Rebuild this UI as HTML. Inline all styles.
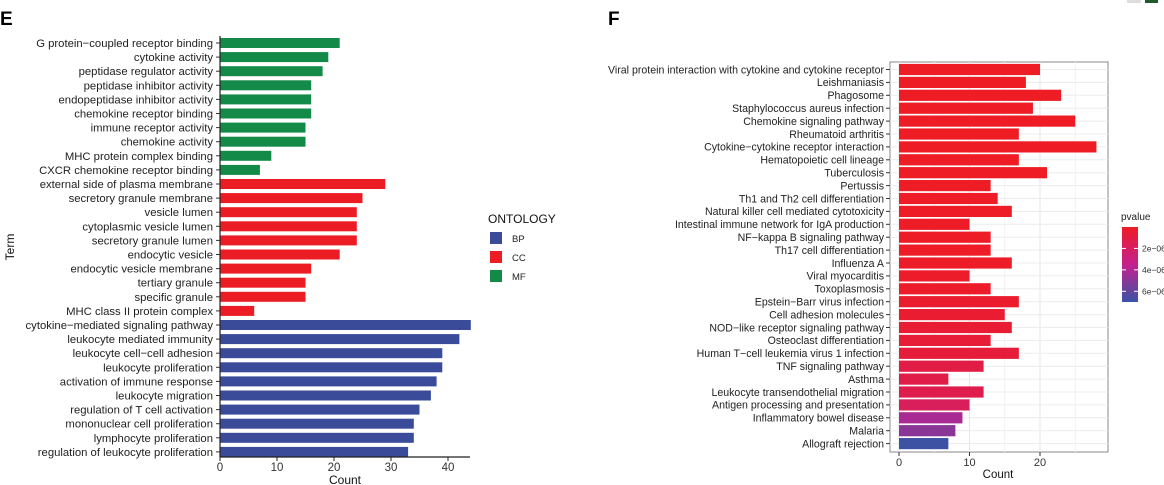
<!DOCTYPE html>
<html><head><meta charset="utf-8"><style>
body{margin:0;background:#fff;}
svg{display:block;font-family:"Liberation Sans",Arial,sans-serif;}
</style></head><body>
<svg id="s" width="1164" height="485" xmlns="http://www.w3.org/2000/svg">
<text x="0" y="25" font-size="19" font-weight="bold">E</text>
<text x="608" y="25" font-size="19" font-weight="bold">F</text>
<rect x="1127" y="0" width="14" height="3" fill="#ddd"/>
<rect x="1145" y="0" width="13" height="3" fill="#1e5a2a"/>
<g id="E"></g>
<g id="F"></g>
</svg>
<script>
const goTerms=["G protein\u2212coupled receptor binding","cytokine activity","peptidase regulator activity","peptidase inhibitor activity","endopeptidase inhibitor activity","chemokine receptor binding","immune receptor activity","chemokine activity","MHC protein complex binding","CXCR chemokine receptor binding","external side of plasma membrane","secretory granule membrane","vesicle lumen","cytoplasmic vesicle lumen","secretory granule lumen","endocytic vesicle","endocytic vesicle membrane","tertiary granule","specific granule","MHC class II protein complex","cytokine\u2212mediated signaling pathway","leukocyte mediated immunity","leukocyte cell\u2212cell adhesion","leukocyte proliferation","activation of immune response","leukocyte migration","regulation of T cell activation","mononuclear cell proliferation","lymphocyte proliferation","regulation of leukocyte proliferation"];
const goCounts=[21,19,18,16,16,16,15,15,9,7,29,25,24,24,24,21,16,15,15,6,44,42,39,39,38,37,35,34,34,33];
const goOntology=["MF","MF","MF","MF","MF","MF","MF","MF","MF","MF","CC","CC","CC","CC","CC","CC","CC","CC","CC","CC","BP","BP","BP","BP","BP","BP","BP","BP","BP","BP"];
const goTicks=[0,10,20,30,40];
const ontLevels=["BP","CC","MF"];
const ontColors={BP:"#3a4b9a",CC:"#ec1c24",MF:"#138a48"};

const keggTerms=["Viral protein interaction with cytokine and cytokine receptor","Leishmaniasis","Phagosome","Staphylococcus aureus infection","Chemokine signaling pathway","Rheumatoid arthritis","Cytokine\u2212cytokine receptor interaction","Hematopoietic cell lineage","Tuberculosis","Pertussis","Th1 and Th2 cell differentiation","Natural killer cell mediated cytotoxicity","Intestinal immune network for IgA production","NF\u2212kappa B signaling pathway","Th17 cell differentiation","Influenza A","Viral myocarditis","Toxoplasmosis","Epstein\u2212Barr virus infection","Cell adhesion molecules","NOD\u2212like receptor signaling pathway","Osteoclast differentiation","Human T\u2212cell leukemia virus 1 infection","TNF signaling pathway","Asthma","Leukocyte transendothelial migration","Antigen processing and presentation","Inflammatory bowel disease","Malaria","Allograft rejection"];
const keggCounts=[20,18,23,19,25,17,28,17,21,13,14,16,10,13,13,16,10,13,17,15,16,13,17,12,7,12,10,9,8,7];
const keggP=[1e-9,1e-9,1e-9,1e-9,1e-9,1e-9,1e-9,1e-9,1e-9,1e-9,2e-8,3e-8,5e-8,6e-8,8e-8,1e-7,1.5e-7,2e-7,3e-7,4e-7,5e-7,6e-7,7e-7,1.1e-6,1.2e-6,1.3e-6,1.8e-6,4.2e-6,5e-6,6.9e-6];
const keggTicks=[0,10,20];
const pTicks=[2e-6,4e-6,6e-6];
const pTickLabels=["2e\u221206","4e\u221206","6e\u221206"];

const NS="http://www.w3.org/2000/svg";
function mk(parent,tag,attrs,text){const e=document.createElementNS(NS,tag);for(const k in attrs)e.setAttribute(k,attrs[k]);if(text!==undefined)e.textContent=text;parent.appendChild(e);return e;}

// Panel E
const E=document.getElementById("E");
const ex=v=>220+v*5.7;
const ey=i=>43+i*14.1;
goTerms.forEach((t,i)=>{
  const r=mk(E,"rect",{x:ex(0),y:ey(i)-5,width:ex(goCounts[i])-ex(0),height:10,fill:ontColors[goOntology[i]]});
  
  
  mk(E,"line",{x1:216,x2:220,y1:ey(i),y2:ey(i),stroke:"#333","stroke-width":1});
  const l=mk(E,"text",{x:213,y:ey(i)+4,"font-size":11.3,"text-anchor":"end",fill:"#222"},t);
  
  
});
mk(E,"line",{x1:220,x2:220,y1:36,y2:457,stroke:"#222","stroke-width":1.2});
mk(E,"line",{x1:220,x2:470,y1:457,y2:457,stroke:"#222","stroke-width":1.2});
goTicks.forEach(v=>{
  mk(E,"line",{x1:ex(v),x2:ex(v),y1:457,y2:461,stroke:"#222"});
  const tl=mk(E,"text",{x:ex(v),y:471,"font-size":11.5,"text-anchor":"middle",fill:"#333"},v);
  
  
});
mk(E,"text",{x:345,y:484,"font-size":12,"text-anchor":"middle",fill:"#111",},"Count");
mk(E,"text",{x:0,y:0,"font-size":12,"text-anchor":"middle",fill:"#111",transform:"translate(14,247) rotate(-90)",},"Term");
mk(E,"text",{x:488,y:223,"font-size":12,fill:"#111",},"ONTOLOGY");
ontLevels.forEach((o,i)=>{
  const y=232+i*19;
  const b=mk(E,"rect",{x:490,y:y,width:12,height:12,fill:ontColors[o]});
  
  
  const t=mk(E,"text",{x:512,y:y+10,"font-size":9.5,fill:"#222"},o);
  
  
});

// Panel F
const F=document.getElementById("F");
const fx=v=>899+v*7.05;
const fy=i=>69.5+i*12.9;
const pmax=7e-6;
function pcol(p){
  let t=Math.min(1,p/pmax);
  const a=[238,28,37],m=[196,32,142],b=[58,83,164];
  let c;
  if(t<0.5){const u=t/0.5;c=a.map((v,k)=>v+(m[k]-v)*u);}else{const u=(t-0.5)/0.5;c=m.map((v,k)=>v+(b[k]-v)*u);}
  return "rgb("+c.map(Math.round).join(",")+")";
}
mk(F,"rect",{x:890,y:62,width:218,height:390,fill:"#fff",stroke:"#888","stroke-width":1});
[5,15,25].forEach(v=>mk(F,"line",{x1:fx(v),x2:fx(v),y1:62,y2:452,stroke:"#f2f2f2"}));
keggTicks.forEach(v=>mk(F,"line",{x1:fx(v),x2:fx(v),y1:62,y2:452,stroke:"#e6e6e6"}));
keggTerms.forEach((t,i)=>mk(F,"line",{x1:890,x2:1108,y1:fy(i),y2:fy(i),stroke:"#ececec"}));
keggTerms.forEach((t,i)=>{
  const r=mk(F,"rect",{x:fx(0),y:fy(i)-5.6,width:fx(keggCounts[i])-fx(0),height:11.2,fill:pcol(keggP[i])});
  
  
  mk(F,"line",{x1:886,x2:890,y1:fy(i),y2:fy(i),stroke:"#333"});
  const l=mk(F,"text",{x:884,y:fy(i)+3.8,"font-size":10.6,"text-anchor":"end",fill:"#222"},t);
  
  
});
keggTicks.forEach(v=>{
  mk(F,"line",{x1:fx(v),x2:fx(v),y1:452,y2:456,stroke:"#333"});
  const tl=mk(F,"text",{x:fx(v),y:466,"font-size":11,"text-anchor":"middle",fill:"#333"},v);
  
  
});
mk(F,"text",{x:998,y:478,"font-size":11.5,"text-anchor":"middle",fill:"#111",},"Count");
mk(F,"text",{x:1121,y:220,"font-size":10,fill:"#222",},"pvalue");
const defs=mk(F,"defs",{});
const g=mk(defs,"linearGradient",{id:"pg",x1:0,y1:0,x2:0,y2:1});
[0,0.25,0.5,0.75,1].forEach(s=>mk(g,"stop",{offset:s,"stop-color":pcol(s*pmax)}));
mk(F,"rect",{x:1122,y:227,width:16,height:75,fill:"url(#pg)",});
const py=p=>227+p/pmax*75;
pTicks.forEach((p,i)=>{
  mk(F,"line",{x1:1122,x2:1126,y1:py(p),y2:py(p),stroke:"#fff"});
  mk(F,"line",{x1:1134,x2:1138,y1:py(p),y2:py(p),stroke:"#fff"});
  const t=mk(F,"text",{x:1142,y:py(p)+3,"font-size":8.5,fill:"#333"},pTickLabels[i]);
  
  
});
</script>
</body></html>
